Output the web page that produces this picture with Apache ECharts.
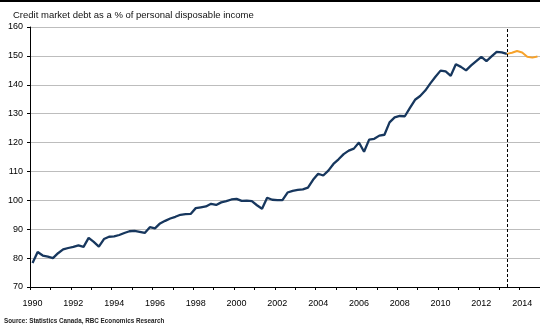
<!DOCTYPE html>
<html><head><meta charset="utf-8">
<script src="https://cdn.jsdelivr.net/npm/echarts@6/dist/echarts.min.js"></script>
<style>html,body{margin:0;padding:0;background:#fff}#c{width:540px;height:329px}</style>
</head><body><div id="c"></div>
<script>
// Quarterly categories 1990Q1 .. 2014Q4
const startYear = 1990;
const endYear = 2014;
const quarters = [];
for (let y = startYear; y <= endYear; y++) for (let q = 1; q <= 4; q++) quarters.push(y + 'Q' + q);

// Actual: 1990Q1 .. 2013Q2 (credit market debt, % of personal disposable income)
const actual = [
  78.3, 82.1, 80.9, 80.5, 80.0, 81.7, 83.0, 83.5,   // 1990-1991
  83.9, 84.4, 83.9, 87.0, 85.6, 84.0, 86.6, 87.4,   // 1992-1993
  87.5, 88.0, 88.7, 89.3, 89.4, 89.1, 88.7, 90.7,   // 1994-1995
  90.3, 92.0, 92.9, 93.7, 94.3, 95.0, 95.2, 95.3,   // 1996-1997
  97.3, 97.6, 97.9, 98.8, 98.4, 99.3, 99.7, 100.3,  // 1998-1999
  100.5, 99.8, 99.9, 99.7, 98.3, 97.1, 100.9, 100.2, // 2000-2001
  100.1, 100.1, 102.7, 103.3, 103.6, 103.8, 104.4, 107.1, // 2002-2003
  109.2, 108.6, 110.3, 112.6, 114.2, 116.0, 117.2, 117.9, // 2004-2005
  120.0, 116.8, 121.0, 121.3, 122.4, 122.7, 127.0, 128.7, // 2006-2007
  129.2, 129.1, 132.0, 134.8, 136.1, 138.0, 140.5, 142.8, // 2008-2009
  144.9, 144.6, 143.1, 147.1, 146.2, 145.0, 146.7, 148.2, // 2010-2011
  149.7, 148.2, 149.8, 151.4, 151.2, 150.7                 // 2012-2013Q2
];
// Forecast: 2013Q2 .. 2014Q4
const forecast = [150.7, 151.1, 151.7, 151.2, 149.7, 149.4, 149.8];
const forecastStart = actual.length - 1;
const dividerQuarter = quarters[forecastStart];

const yTicks = {min: 70, max: 160, step: 10};
const titleText = 'Credit market debt as a % of personal disposable income';
const sourceText = 'Source: Statistics Canada, RBC Economics Research';

const actualData = quarters.map((q, i) => i < actual.length ? actual[i] : null);
const forecastData = quarters.map((q, i) => (i >= forecastStart && i - forecastStart < forecast.length) ? forecast[i - forecastStart] : null);

const chart = echarts.init(document.getElementById('c'), null, {renderer: 'canvas'});
const font = 'Liberation Sans, Arial, sans-serif';
chart.setOption({
  animation: false,
  backgroundColor: '#fff',
  textStyle: {fontFamily: font},
  title: {
    text: titleText, left: 8, top: 5,
    textStyle: {fontSize: 9.5, fontWeight: 'normal', color: '#111', fontFamily: font}
  },
  graphic: [
    {type: 'rect', left: 0, top: 0, shape: {width: 540, height: 2}, style: {fill: '#000'}},
    {type: 'text', left: 4, top: 318, style: {text: sourceText, fontSize: 6.3, fontWeight: 'bold', fill: '#222', fontFamily: font}}
  ],
  grid: {left: 30, right: 0, top: 27, bottom: 42, containLabel: false},
  xAxis: {
    type: 'category', data: quarters, boundaryGap: true,
    axisLine: {lineStyle: {color: '#000', width: 1}},
    axisTick: {show: true, interval: 3, length: 3, lineStyle: {color: '#000'}},
    axisLabel: {interval: 7, margin: 12, fontSize: 9, color: '#000', fontFamily: font,
      formatter: v => v.slice(0, 4)},
    splitLine: {show: false}
  },
  yAxis: {
    type: 'value', min: yTicks.min, max: yTicks.max, interval: yTicks.step,
    axisLine: {show: true, lineStyle: {color: '#000', width: 1}},
    axisTick: {show: true, length: 3, lineStyle: {color: '#000'}},
    axisLabel: {margin: 7, fontSize: 9, color: '#000', fontFamily: font},
    splitLine: {show: true, lineStyle: {color: '#bdbdbd', width: 1}}
  },
  series: [
    {
      type: 'line', data: actualData, showSymbol: false, symbol: 'none',
      lineStyle: {color: '#17375e', width: 2.3}, itemStyle: {color: '#17375e'},
      markLine: {
        silent: true, symbol: 'none', label: {show: false},
        lineStyle: {color: '#000', type: [3, 2], width: 1},
        data: [{xAxis: dividerQuarter}]
      }
    },
    {
      type: 'line', data: forecastData, showSymbol: false, symbol: 'none',
      lineStyle: {color: '#f7a22a', width: 2}, itemStyle: {color: '#f7a22a'}
    }
  ]
});
</script></body></html>
